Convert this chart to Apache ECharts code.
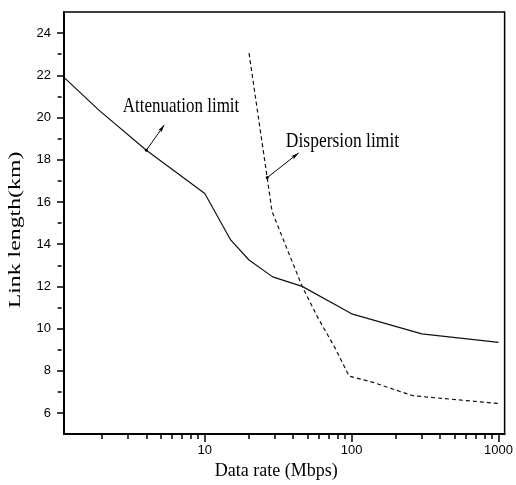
<!DOCTYPE html>
<html>
<head>
<meta charset="utf-8">
<script src="https://cdn.jsdelivr.net/npm/echarts@6/dist/echarts.min.js"></script>
<style>html,body{margin:0;padding:0;background:#fff;}#c{width:516px;height:485px;}</style>
</head>
<body>
<div id="c"></div>
<script>
// Data
var attX = [1.1, 1.9, 4, 10, 15, 20, 29, 46, 100, 300, 1000];
var attY = [21.9, 20.35, 18.45, 16.4, 14.2, 13.25, 12.45, 12.0, 10.7, 9.75, 9.35];
var dispX = [20, 26.6, 28.7, 35, 46, 58, 77.5, 96, 140, 260, 1000];
var dispY = [23.05, 17.15, 15.55, 14.05, 12.0, 10.6, 9.05, 7.75, 7.45, 6.82, 6.45];
var xMajorTicks = [10, 100, 1000];
var xMinorTicks = [2, 3, 4, 5, 6, 7, 8, 9, 20, 30, 40, 50, 60, 70, 80, 90, 200, 300, 400, 500, 600, 700, 800, 900];
var yMajorTicks = [6, 8, 10, 12, 14, 16, 18, 20, 22, 24];
var yMinorTicks = [7, 9, 11, 13, 15, 17, 19, 21, 23];
var attArrow = [[4, 18.45], [5.3, 19.65]];
var dispArrow = [[26.6, 17.15], [43.5, 18.32]];

function zip(a, b) { return a.map(function (v, i) { return [v, b[i]]; }); }

var chart = echarts.init(document.getElementById('c'), null, {renderer: 'canvas'});
var lineCol = '#000';
var gridTop = 12, gridBottom = 50, gridLeft = 64, gridRight = 9;
var plotH = 485 - gridTop - gridBottom;
var plotW = 516 - gridLeft - gridRight;
var tickFont = {color: '#000', fontFamily: 'Liberation Sans', fontSize: 13};
var plain = function (v) { return String(v); };
var option = {
  animation: false,
  backgroundColor: '#fff',
  grid: {left: gridLeft, top: gridTop, right: gridRight, bottom: gridBottom, show: true, borderColor: '#000', borderWidth: 1.5, backgroundColor: 'transparent'},
  xAxis: [{
    type: 'log', min: 1.1, max: 1100, logBase: 10,
    position: 'bottom',
    name: 'Data rate (Mbps)', nameLocation: 'middle', nameGap: 17,
    nameTextStyle: {color: '#000', fontFamily: 'Liberation Serif', fontSize: 18, padding: [0, 16, 0, 0]},
    axisLine: {show: true, lineStyle: {color: lineCol, width: 2}},
    axisTick: {show: true, length: 8, customValues: xMajorTicks, lineStyle: {color: lineCol, width: 1.5}},
    axisLabel: Object.assign({show: true, margin: 10, customValues: xMajorTicks, formatter: plain}, tickFont),
    splitLine: {show: false}, minorTick: {show: false}, minorSplitLine: {show: false}
  }, {
    type: 'log', min: 1.1, max: 1100, logBase: 10,
    position: 'top', offset: -plotH, gridIndex: 0,
    axisLine: {show: true, lineStyle: {color: 'rgba(0,0,0,0)', width: 0}},
    axisTick: {show: true, inside: true, length: 4, customValues: xMinorTicks, lineStyle: {color: lineCol, width: 1.5}},
    axisLabel: {show: false},
    splitLine: {show: false}
  }],
  yAxis: [{
    type: 'value', min: 5, max: 25,
    position: 'left',
    axisLine: {show: true, lineStyle: {color: lineCol, width: 2}},
    axisTick: {show: true, length: 7, customValues: yMajorTicks, lineStyle: {color: lineCol, width: 1.5}},
    axisLabel: Object.assign({show: true, margin: 13, customValues: yMajorTicks}, tickFont),
    splitLine: {show: false}
  }, {
    type: 'value', min: 5, max: 25,
    position: 'right', offset: -plotW, gridIndex: 0,
    axisLine: {show: true, lineStyle: {color: 'rgba(0,0,0,0)', width: 0}},
    axisTick: {show: true, inside: true, length: 4, customValues: yMinorTicks, lineStyle: {color: lineCol, width: 1.5}},
    axisLabel: {show: false},
    splitLine: {show: false}
  }],
  series: [{
    name: 'Attenuation limit', type: 'line', xAxisIndex: 0, yAxisIndex: 0,
    data: zip(attX, attY), showSymbol: false, symbol: 'none',
    lineStyle: {color: '#111', width: 1.2},
    markLine: {
      silent: true, symbol: ['circle', 'arrow'], symbolSize: [3, 8],
      label: {show: false},
      lineStyle: {color: '#000', width: 1, type: 'solid'},
      data: [[{coord: attArrow[0]}, {coord: attArrow[1]}]]
    }
  }, {
    name: 'Dispersion limit', type: 'line', xAxisIndex: 0, yAxisIndex: 0,
    data: zip(dispX, dispY), showSymbol: false, symbol: 'none',
    lineStyle: {color: '#111', width: 1.2, type: [4, 3]},
    markLine: {
      silent: true, symbol: ['circle', 'arrow'], symbolSize: [3, 8],
      label: {show: false},
      lineStyle: {color: '#000', width: 1, type: 'solid'},
      data: [[{coord: dispArrow[0]}, {coord: dispArrow[1]}]]
    }
  }],
  graphic: [{
    type: 'text', x: 16, y: 230, rotation: Math.PI / 2, scaleX: 1.4,
    style: {text: 'Link length(km)', fontFamily: 'Liberation Serif', fontSize: 17, fill: '#000', align: 'center', verticalAlign: 'middle', textAlign: 'center', textVerticalAlign: 'middle'}
  }, {
    type: 'text', x: 181, y: 106, scaleY: 1.25,
    style: {text: 'Attenuation limit', fontFamily: 'Liberation Serif', fontSize: 17, fill: '#000', align: 'center', verticalAlign: 'middle', textAlign: 'center', textVerticalAlign: 'middle'}
  }, {
    type: 'text', x: 342.5, y: 141, scaleY: 1.2,
    style: {text: 'Dispersion limit', fontFamily: 'Liberation Serif', fontSize: 17.5, fill: '#000', align: 'center', verticalAlign: 'middle', textAlign: 'center', textVerticalAlign: 'middle'}
  }]
};
chart.setOption(option);
</script>
</body>
</html>
